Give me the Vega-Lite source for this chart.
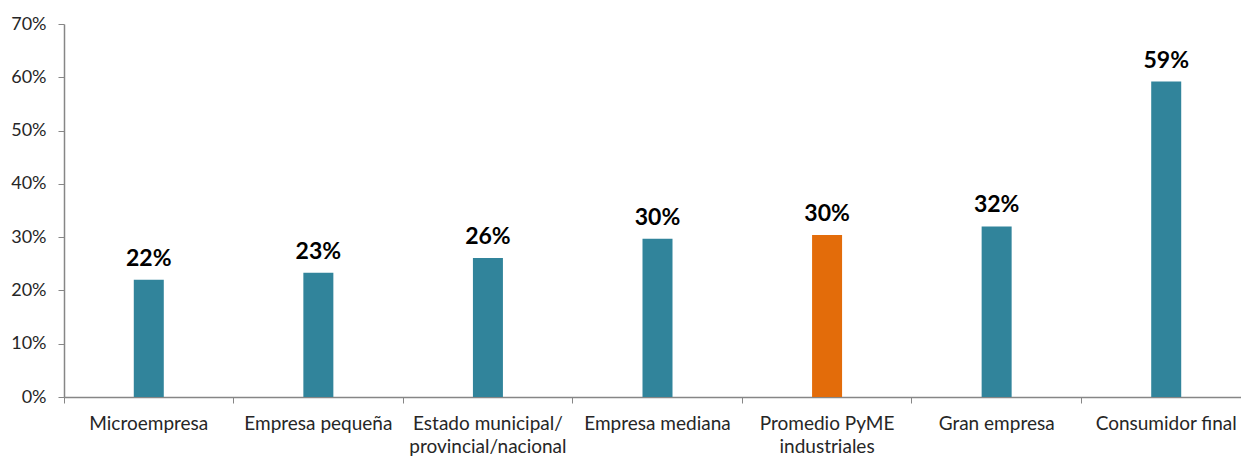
{
  "$schema": "https://vega.github.io/schema/vega-lite/v6.json",
  "autosize": "none",
  "width": 1187,
  "height": 373,
  "padding": {"left": 64, "top": 24, "right": 0, "bottom": 59},
  "background": "white",
  "config": {"view": {"stroke": null}, "font": "Lato"},
  "data": {
    "values": [
      {"cat": "Microempresa", "v": 0.22, "grp": "a"},
      {"cat": "Empresa pequeña", "v": 0.233, "grp": "a"},
      {"cat": "Estado municipal/|provincial/nacional", "v": 0.261, "grp": "a"},
      {"cat": "Empresa mediana", "v": 0.297, "grp": "a"},
      {"cat": "Promedio PyME|industriales", "v": 0.304, "grp": "b"},
      {"cat": "Gran empresa", "v": 0.32, "grp": "a"},
      {"cat": "Consumidor final", "v": 0.592, "grp": "a"}
    ]
  },
  "encoding": {
    "x": {
      "field": "cat", "type": "nominal", "sort": null,
      "scale": {"paddingInner": 0, "paddingOuter": 0},
      "axis": {
        "title": null, "bandPosition": 0, "labelDx": 84.75, "labelAngle": 0,
        "labelExpr": "split(datum.label, '|')",
        "labelFont": "Lato", "labelFontSize": 19, "labelColor": "#262626",
        "labelPadding": 11, "labelLineHeight": 23,
        "domainColor": "#868686", "domainWidth": 1.5, "tickColor": "#868686", "tickSize": 6, "tickWidth": 1,
        "labelOverlap": false, "labelBound": false, "labelLimit": 0
      }
    },
    "y": {
      "field": "v", "type": "quantitative",
      "scale": {"domain": [0, 0.7], "nice": false},
      "axis": {
        "title": null, "format": ".0%", "values": [0, 0.1, 0.2, 0.3, 0.4, 0.5, 0.6, 0.7],
        "grid": false, "labelFont": "Lato", "labelFontSize": 18, "labelColor": "#262626",
        "labelPadding": 12, "domainColor": "#868686", "domainWidth": 1.5,
        "tickColor": "#868686", "tickSize": 6
      }
    }
  },
  "layer": [
    {
      "mark": {"type": "bar", "width": 30},
      "encoding": {
        "color": {
          "field": "grp", "type": "nominal", "legend": null,
          "scale": {"domain": ["a", "b"], "range": ["#31849B", "#E36C0A"]}
        }
      }
    },
    {
      "mark": {"type": "text", "baseline": "alphabetic", "dy": -14, "font": "Lato", "fontWeight": "bold", "fontSize": 23, "color": "#000000"},
      "encoding": {"text": {"field": "v", "type": "quantitative", "format": ".0%"}}
    }
  ]
}
